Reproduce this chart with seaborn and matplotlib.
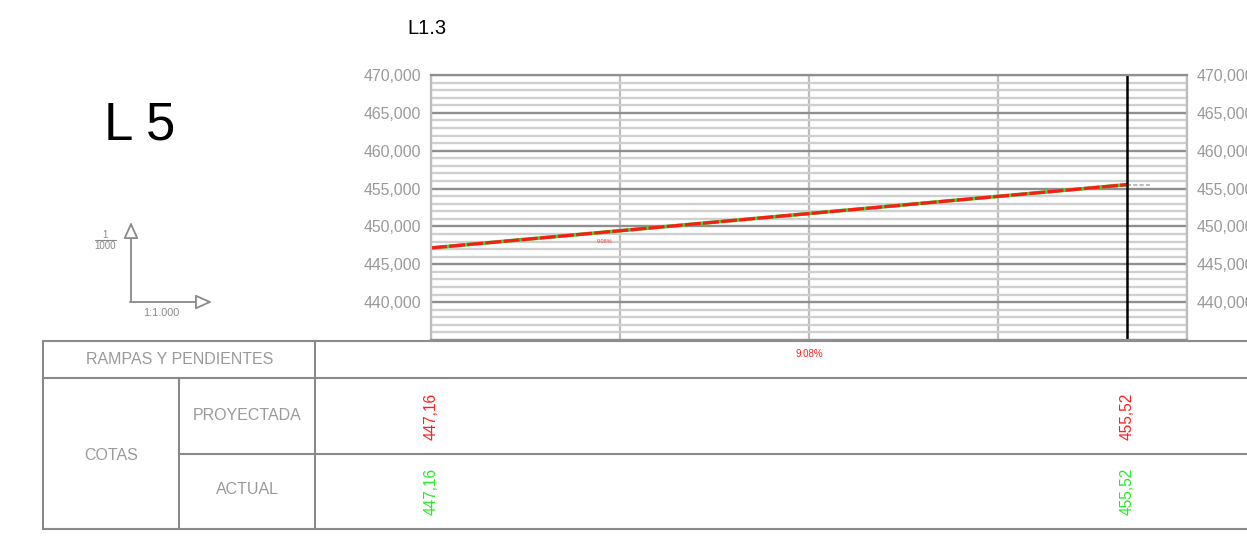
import numpy as np
import pandas as pd
import seaborn as sns
import matplotlib.pyplot as plt
from matplotlib.ticker import MultipleLocator, FuncFormatter
from matplotlib.transforms import blended_transform_factory

# profile data (stations in m, elevations in m)
stations = [0.0, 92.07]
cota_proyectada = [447.16, 455.52]
cota_actual = [447.16, 455.52]
elev_ticks = [440, 445, 450, 455, 460, 465, 470]
slope_label = "9.08%"
section_name = "L 5"
title = "L1.3"
row_labels = ["RAMPAS Y PENDIENTES", "COTAS", "PROYECTADA", "ACTUAL"]

sns.set_style("white")
plt.rcParams['font.family'] = ['Liberation Sans', 'DejaVu Sans']

df = pd.DataFrame({"station": stations, "proyectada": cota_proyectada, "actual": cota_actual})

W, H = 1247, 536
fig = plt.figure(figsize=(W / 100, H / 100), dpi=100)

# page layer in pixel units for the table and annotations
page = fig.add_axes([0, 0, 1, 1])
page.set_xlim(0, W)
page.set_ylim(H, 0)
page.axis("off")

# profile axes
ax = fig.add_axes([431 / W, (H - 340) / H, 756 / W, 265 / H])
ax.set_xlim(0, 100)
ax.set_ylim(435, 470)
ax.set_yticks(elev_ticks)
ax.yaxis.set_minor_locator(MultipleLocator(1))
ax.xaxis.set_major_locator(MultipleLocator(25))
ax.set_axisbelow(True)
ax.grid(axis="y", which="minor", color="#cfcfcf", lw=1.7)
ax.grid(axis="y", which="major", color="#8f8f8f", lw=1.7)
ax.grid(axis="x", which="major", color="#bdbdbd", lw=1.6)
ax.yaxis.set_major_formatter(FuncFormatter(lambda v, p: f"{v:.3f}".replace(".", ",")))
ax.tick_params(axis="y", which="both", length=0, labelsize=11.4, labelcolor="#9a9a9a",
               labelright=True, pad=7)
ax.tick_params(axis="x", which="both", length=0, labelbottom=False)
for side in ["left", "right"]:
    ax.spines[side].set_color("#bdbdbd")
    ax.spines[side].set_linewidth(1.6)
ax.spines["top"].set_color("#8f8f8f")
ax.spines["top"].set_linewidth(1.6)
ax.spines["bottom"].set_color("#8f8f8f")
ax.spines["bottom"].set_linewidth(1.6)

sns.lineplot(data=df, x="station", y="actual", color="#33dd22", lw=2.6, ax=ax)
sns.lineplot(data=df, x="station", y="proyectada", color="#ff1a1a", lw=2.3, ax=ax)
ax.lines[-1].set_linestyle((0, (5, 0.7)))
ax.set_xlabel("")
ax.set_ylabel("")
ax.plot([stations[-1], stations[-1] + 3], [cota_actual[-1]] * 2, color="#bbbbbb",
        lw=1.5, ls=(0, (2, 1)))
ax.axvline(stations[-1], color="black", lw=1.8)
ax.text(23, 448.0, slope_label, color="#ff3030", fontsize=4, ha="center", va="center")

# title and section name
page.text(427, 28, title, fontsize=14.5, ha="center", va="center", color="black")
page.text(140, 125, section_name, fontsize=38, ha="center", va="center", color="black")

# scale icon
grey = "#8a8a8a"
aprops = dict(arrowstyle="-|>,head_length=1.0,head_width=0.45", fc="white", ec=grey,
              lw=1.3, shrinkA=0, shrinkB=0)
page.annotate("", xy=(131, 222), xytext=(131, 302), arrowprops=aprops)
page.annotate("", xy=(212, 302), xytext=(130, 302), arrowprops=aprops)
page.text(105, 235, "1", fontsize=7, color=grey, ha="center", va="center")
page.plot([95, 116], [240, 240], color=grey, lw=0.8)
page.text(105, 246, "1000", fontsize=7, color=grey, ha="center", va="center")
page.text(161, 313, "1:1.000", fontsize=7.8, color=grey, ha="center", va="center")

# guitar table
tc = "#8a8a8a"
lw = 1.5
page.plot([43, W], [341, 341], color=tc, lw=lw)
page.plot([43, W], [378, 378], color=tc, lw=lw)
page.plot([179, W], [454, 454], color=tc, lw=lw)
page.plot([43, W], [529, 529], color=tc, lw=lw)
page.plot([43, 43], [341, 529], color=tc, lw=lw)
page.plot([315, 315], [341, 529], color=tc, lw=lw)
page.plot([179, 179], [378, 529], color=tc, lw=lw)

tg = "#9a9a9a"
page.text(180, 360, row_labels[0], fontsize=11.5, color=tg, ha="center", va="center")
page.text(111, 455, row_labels[1], fontsize=11.5, color=tg, ha="center", va="center")
page.text(247, 415, row_labels[2], fontsize=11.5, color=tg, ha="center", va="center")
page.text(247, 490, row_labels[3], fontsize=11.5, color=tg, ha="center", va="center")

blend = blended_transform_factory(ax.transData, page.transData)
page.text(50, 354, slope_label, transform=blend, fontsize=7, color="#ff2020",
          ha="center", va="center")
for s, cp, ca in zip(stations, cota_proyectada, cota_actual):
    page.text(s, 416, f"{cp:.2f}".replace(".", ","), transform=blend, rotation=90,
              fontsize=11.2, color="#ff2020", ha="center", va="center")
    page.text(s, 491, f"{ca:.2f}".replace(".", ","), transform=blend, rotation=90,
              fontsize=11.2, color="#22ee22", ha="center", va="center")

fig.savefig("out.png", dpi=100)
